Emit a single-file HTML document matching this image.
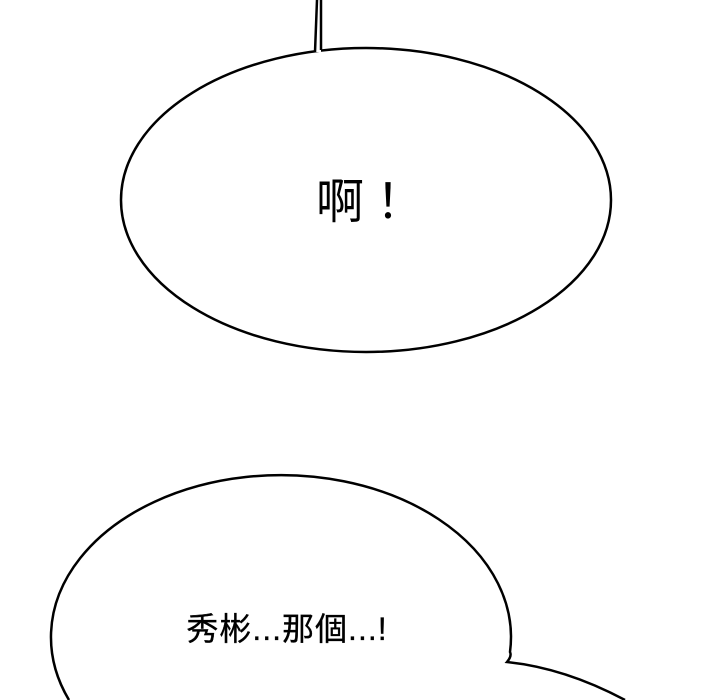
<!DOCTYPE html>
<html><head><meta charset="utf-8"><style>
html,body{margin:0;padding:0;background:#fff;}
svg{display:block;}
</style></head><body>
<svg width="720" height="700" viewBox="0 0 720 700" xmlns="http://www.w3.org/2000/svg">
<rect width="720" height="700" fill="#fff"/>
<ellipse cx="366" cy="200" rx="245" ry="152" fill="#fff" stroke="#000" stroke-width="2.5"/>
<rect x="316" y="0" width="5" height="52" fill="#fff"/>
<path d="M317,0 L315,52 M321,0 L321,50" stroke="#000" stroke-width="2.5" fill="none"/>
<text x="364" y="218" font-family="'Liberation Sans','Noto Sans CJK TC',sans-serif" font-size="48" text-anchor="middle">啊！</text>
<path d="M69,700 A230,162 0 1 1 510,652 Q512,656 507,662 Q565,668 625,700" fill="#fff" stroke="#000" stroke-width="2.5"/>
<text x="287" y="640" font-family="'Liberation Sans','Noto Sans CJK TC',sans-serif" font-size="32" letter-spacing="1" text-anchor="middle" stroke="#000" stroke-width="0.3">秀彬...那個...!</text>
</svg>
</body></html>
